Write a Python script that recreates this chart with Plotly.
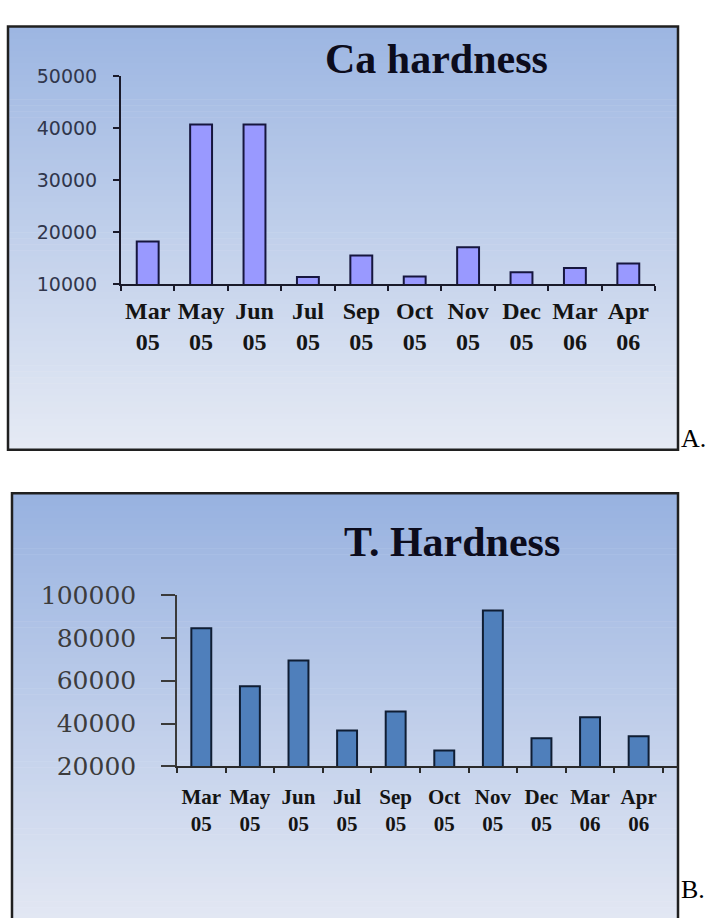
import plotly.graph_objects as go
import numpy as np

# ---------------- data ----------------
months = ["Mar<br>05", "May<br>05", "Jun<br>05", "Jul<br>05", "Sep<br>05",
          "Oct<br>05", "Nov<br>05", "Dec<br>05", "Mar<br>06", "Apr<br>06"]
ca_hardness = [18200, 40700, 40700, 11400, 15500, 11500, 17100, 12300, 13100, 14000]
t_hardness = [84500, 57400, 69400, 36800, 45600, 27400, 92800, 33200, 43000, 34100]
ca_ticks = [10000, 20000, 30000, 40000, 50000]
t_ticks = [20000, 40000, 60000, 80000, 100000]

W, H = 707, 918


def px_x(p):
    return p / W


def px_y(p):
    return 1 - p / H


fig = go.Figure()

fig.add_trace(go.Bar(
    x=months, y=ca_hardness, xaxis="x", yaxis="y",
    marker=dict(color="#9999ff", line=dict(color="#16163e", width=2)),
    showlegend=False, hoverinfo="x+y"))

fig.add_trace(go.Bar(
    x=months, y=t_hardness, xaxis="x2", yaxis="y2",
    marker=dict(color="#4f7fbb", line=dict(color="#0f1d33", width=2)),
    showlegend=False, hoverinfo="x+y"))

shapes = []


def gradient(x0, x1, y0, y1, c0, c1, n=70):
    edges = np.linspace(y0, y1, n + 1)
    for i in range(n):
        t = i / (n - 1)
        c = [int(round(c0[k] + (c1[k] - c0[k]) * t)) for k in range(3)]
        shapes.append(dict(type="rect", xref="paper", yref="paper",
                           x0=px_x(x0), x1=px_x(x1),
                           y0=px_y(edges[i]), y1=px_y(edges[i + 1] + 0.6),
                           fillcolor=f"rgb({c[0]},{c[1]},{c[2]})",
                           line=dict(width=0), layer="below"))


# Panel A background + frame
gradient(8, 678, 13, 450, (157, 182, 226), (229, 234, 244))
shapes.append(dict(type="rect", xref="paper", yref="paper",
                   x0=px_x(8), x1=px_x(678), y0=px_y(450), y1=px_y(13),
                   line=dict(color="#202020", width=2.5), layer="below"))
# Panel B background + frame
gradient(12, 678, 495, 935, (152, 178, 224), (226, 231, 243))
shapes.append(dict(type="rect", xref="paper", yref="paper",
                   x0=px_x(12), x1=px_x(678), y0=px_y(935), y1=px_y(495),
                   line=dict(color="#202020", width=2.5), layer="below"))

xlab_font_a = dict(family="Liberation Serif", size=24, color="#141414", weight="bold")
xlab_font_b = dict(family="Liberation Serif", size=21, color="#141414", weight="bold")

fig.update_layout(
    width=W, height=H,
    margin=dict(l=0, r=0, t=0, b=0),
    paper_bgcolor="white",
    plot_bgcolor="rgba(0,0,0,0)",
    bargap=0.59,
    shapes=shapes,
    xaxis=dict(domain=[px_x(121), px_x(655)], type="category",
               showline=True, linecolor="#1a1a2a", linewidth=2,
               ticks="outside", tickson="boundaries", ticklen=5,
               tickcolor="#1a1a2a", tickwidth=2, tickangle=0,
               tickfont=xlab_font_a, showgrid=False, fixedrange=True,
               ticklabelstandoff=4, anchor="y"),
    yaxis=dict(domain=[px_y(279), px_y(64.3)], range=[10000, 50000],
               tickvals=ca_ticks, ticktext=[str(v) for v in ca_ticks],
               showline=True, linecolor="#1a1a2a", linewidth=2,
               ticks="outside", ticklen=6, tickcolor="#1a1a2a", tickwidth=2,
               tickfont=dict(family="DejaVu Sans", size=19, color="#30364c"),
               ticklabelstandoff=12,
               showgrid=False, zeroline=False, anchor="x"),
    xaxis2=dict(domain=[px_x(177), px_x(678)], type="category",
                range=[-0.5, 9.81],
                showline=True, linecolor="#2a2a2a", linewidth=2,
                ticks="outside", tickson="boundaries", ticklen=5,
                tickcolor="#2a2a2a", tickwidth=2, tickangle=0,
                tickfont=xlab_font_b, showgrid=False,
                ticklabelstandoff=10, anchor="y2"),
    yaxis2=dict(domain=[px_y(777), px_y(600)], range=[20000, 100000],
                tickvals=t_ticks, ticktext=[str(v) for v in t_ticks],
                showline=True, linecolor="#3a3a3a", linewidth=1.5,
                ticks="outside", ticklen=14, tickcolor="#3a3a3a", tickwidth=1.5,
                tickfont=dict(family="DejaVu Serif", size=25, color="#3c3c3c"),
                ticklabelstandoff=20,
                showgrid=False, zeroline=False, anchor="x2"),
    annotations=[
        dict(text="<b>Ca hardness</b>", xref="paper", yref="paper",
             x=px_x(436), y=px_y(46), xanchor="center", yanchor="middle",
             showarrow=False,
             font=dict(family="Liberation Serif", size=42, color="#0c0c1c")),
        dict(text="<b>T. Hardness</b>", xref="paper", yref="paper",
             x=px_x(452), y=px_y(545), xanchor="center", yanchor="middle",
             showarrow=False,
             font=dict(family="Liberation Serif", size=42, color="#0c0c1c")),
        dict(text="A.", xref="paper", yref="paper",
             x=px_x(679), y=px_y(455), xanchor="left", yanchor="bottom",
             showarrow=False,
             font=dict(family="Liberation Serif", size=26, color="#000000")),
        dict(text="B.", xref="paper", yref="paper",
             x=px_x(679), y=px_y(921), xanchor="left", yanchor="bottom",
             showarrow=False,
             font=dict(family="Liberation Serif", size=26, color="#000000")),
    ],
)

fig.write_html("out.html",
               config={"displayModeBar": False},
               post_script="document.body.style.margin='0';"
                           "document.body.style.overflow='hidden';")
